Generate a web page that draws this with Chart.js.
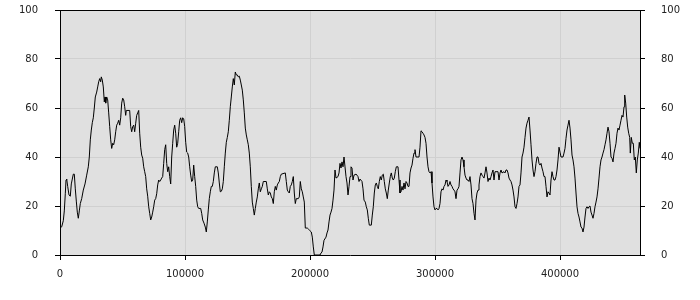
<!DOCTYPE html>
<html>
<head>
<meta charset="utf-8">
<script src="https://cdn.jsdelivr.net/npm/chart.js@4"></script>
<style>
  body { margin: 0; background: #fff; }
</style>
</head>
<body>
<canvas id="chart" width="700" height="300"></canvas>
<script>
// positions along the x axis
const xValues = [
  240, 1360, 2640, 3440, 4240, 4800, 5360, 6160, 7200, 8240, 9040, 9840, 10640, 11440, 12240, 13040, 13840, 14640, 15440, 16240,
  17360, 18640, 20000, 21360, 22640, 23440, 24240, 25040, 25840, 26640, 27440, 28240, 29360, 30160, 30960, 31760, 32560, 33040, 33840, 34640,
  35440, 36000, 36560, 37360, 38160, 38960, 39760, 40560, 41360, 42160, 42960, 43760, 44560, 45360, 46160, 46960, 47760, 48560, 49360, 50160,
  50960, 51760, 52560, 53040, 55760, 56560, 57360, 58160, 58960, 59760, 60560, 61360, 62160, 62960, 63760, 64560, 65360, 66160, 66960, 67760,
  68560, 69360, 70160, 70960, 71760, 72560, 73360, 74160, 74960, 75760, 76560, 77360, 78160, 78960, 79760, 80560, 81360, 82160, 82960, 83760,
  84560, 85360, 86160, 86960, 87760, 88560, 89360, 90160, 90960, 91760, 92560, 93360, 94160, 94960, 95760, 96560, 97360, 98160, 98960, 99760,
  100560, 101360, 102160, 102960, 103760, 104560, 105360, 106160, 106960, 107760, 108560, 109360, 110160, 110960, 112560, 113360, 114160, 115200, 116240, 117040,
  117840, 118640, 119440, 120240, 121040, 121840, 122640, 123440, 124240, 125840, 126640, 127440, 128240, 129040, 129840, 130640, 131440, 132240, 133040, 133840,
  134640, 135440, 136240, 137040, 137840, 138640, 139440, 140240, 141040, 141840, 142640, 143440, 144240, 145040, 145840, 146640, 147440, 148240, 149040, 149840,
  150640, 151440, 152240, 153040, 153840, 154640, 155440, 156240, 157040, 157840, 158640, 159440, 160240, 161040, 161840, 162640, 165040, 165840, 166640, 167440,
  168240, 169040, 169840, 170640, 171440, 172240, 173040, 173840, 174640, 175440, 176240, 177040, 180240, 181040, 181840, 182640, 183440, 184240, 185040, 185840,
  186640, 187440, 188240, 189040, 190640, 191440, 192240, 193040, 193840, 194640, 195440, 196240, 197840, 198640, 199440, 201040, 201840, 202640, 203440, 208000,
  208800, 209600, 210400, 211200, 212800, 213600, 214400, 215200, 216000, 216800, 217600, 218400, 219200, 220000, 220800, 222400, 223200, 224000, 224800, 225600,
  226400, 227200, 228000, 228800, 229600, 230400, 231200, 232000, 232800, 233600, 234400, 235200, 236800, 237600, 238400, 239200, 240000, 241600, 242400, 243200,
  244240, 245040, 245840, 246640, 247440, 249040, 249840, 250640, 251440, 252240, 253040, 253840, 254640, 255440, 256240, 257040, 257840, 258640, 259440, 260240,
  261040, 261840, 262640, 263440, 264240, 265040, 265840, 266640, 267440, 268240, 269040, 270400, 271200, 272000, 272800, 273600, 274400, 275200, 276000, 276800,
  277600, 278400, 279200, 280000, 280800, 281600, 282400, 283200, 284000, 284800, 287200, 288000, 288800, 289600, 290400, 291200, 292000, 292800, 293600, 294400,
  295200, 296000, 296800, 297600, 298400, 299200, 300000, 300800, 301600, 302400, 303200, 304000, 304800, 305600, 306400, 307200, 308000, 308800, 309600, 310400,
  311200, 312000, 312800, 313600, 314400, 315200, 316000, 316800, 317600, 318400, 319200, 320000, 320800, 321600, 322400, 323200, 324000, 324800, 325600, 326400,
  327200, 328000, 328800, 329600, 330400, 331200, 332000, 332800, 333600, 334400, 335200, 336000, 336800, 337600, 338400, 339200, 340000, 340800, 341600, 342400,
  343200, 344000, 344800, 345600, 346400, 347200, 348000, 350400, 351200, 352000, 352800, 353600, 355200, 356000, 356800, 357600, 358400, 359200, 360000, 360800,
  361600, 362400, 363200, 364000, 364800, 365600, 366400, 367200, 368000, 368800, 369600, 370400, 371200, 372000, 372800, 373600, 374400, 375200, 376000, 376800,
  377600, 378400, 379200, 380000, 380800, 381600, 382400, 383200, 384000, 384800, 385600, 386400, 387200, 388000, 388800, 389600, 390400, 391200, 392000, 392800,
  393600, 394400, 395200, 396000, 396800, 397600, 398400, 399200, 400000, 400800, 402400, 403200, 404000, 404800, 405600, 406400, 407200, 408000, 408800, 409600,
  410400, 411200, 412000, 412800, 413600, 414400, 415200, 416000, 416800, 417600, 418400, 419200, 420000, 420800, 421600, 422400, 423200, 424000, 424800, 425600,
  426400, 427200, 428000, 428800, 429600, 430400, 431200, 432000, 432800, 433600, 434400, 435200, 436000, 436800, 437600, 438400, 439200, 440000, 440800, 441600,
  442400, 443200, 444000, 444800, 445600, 446400, 447200, 448000, 448800, 449600, 450400, 451200, 451760, 452560, 453360, 454160, 454960, 455760, 456240, 457040,
  457840, 458640, 459440, 460240, 461040, 461840, 462640, 463440, 464000
];

// series values
const yValues = [
  11, 11.5, 14, 18, 25, 30.6, 31, 28, 24.5, 24, 29, 31, 33, 33, 27, 22, 17.5, 15, 18, 21,
  23, 26.5, 29, 32.6, 36, 40, 47, 51, 54, 56, 60, 64.5, 66.5, 68.6, 70.7, 72, 70.7, 72.7, 71.4, 68.6,
  62.5, 64.5, 62, 64.5, 63.3, 58, 52.4, 47, 43.5, 45.6, 45, 47, 50.3, 53, 53.8, 55, 53, 56, 62, 64,
  63.3, 60.5, 57, 59, 59, 52.4, 50.3, 52.4, 53, 50.3, 53.8, 57, 58, 59, 49.7, 44, 40.8, 39.5, 36, 34,
  32, 27, 24, 19.7, 17, 14.3, 15.5, 17.5, 19.7, 22.4, 23, 25, 28.6, 30.6, 30, 30.6, 31.4, 32, 37.4, 43,
  45, 37.4, 34, 36, 32, 29, 40, 45.6, 51, 53, 49.7, 44, 45.6, 50.3, 55, 56, 54, 56, 55.6, 52.4,
  46, 42, 41.6, 40, 36, 32.6, 30, 30.6, 36.7, 32, 28, 22.4, 19.7, 19, 19, 17, 14.3, 13, 11.4, 9.4,
  13.5, 18.4, 23, 25.8, 28, 28, 30, 33.5, 36, 36, 33.5, 29.4, 25.8, 26, 27, 30, 36, 41.6, 46, 48,
  50.3, 55, 60.5, 64.5, 68.6, 72, 69.4, 74.7, 73.5, 73.5, 72.7, 73, 71.4, 69.4, 67.3, 63.3, 58, 51.8, 49, 47,
  45, 41.6, 36, 28, 21.6, 19, 16.3, 19, 21.6, 23.7, 27, 29.4, 25.8, 27, 28, 30, 30, 27, 24.5, 25.8,
  25.3, 23.7, 23, 21, 25.8, 28, 26.5, 28.6, 29.4, 30, 32, 33, 33.5, 30, 26.5, 25.8, 25.3, 28, 28.6, 30,
  32, 25.3, 21, 23, 23, 23.7, 30, 27, 25.8, 23.7, 21.6, 11, 11, 10.6, 10.2, 9.4, 7.3, 3.3, 0, 0,
  0.8, 1.2, 3.3, 6, 7.3, 9, 10.2, 13.5, 16.3, 17.5, 19, 22.4, 26.5, 34.7, 31.4, 32, 33.5, 37.4, 35.5, 38,
  36, 40, 36, 32, 29.4, 24.5, 28, 32, 36, 35.5, 30.6, 32.6, 33, 32.6, 32, 30, 31, 30, 27, 22.4,
  21.6, 19.7, 18.4, 15, 12.2, 12.2, 16.3, 19.7, 25.3, 28.6, 29.4, 28, 27, 30, 32, 30.6, 32.6, 33, 30, 27,
  25.3, 23, 26.5, 29.4, 32, 33.5, 31.4, 30.6, 31.4, 34, 36, 36, 30.6, 25.3, 25.8, 28, 26.5, 29.4, 27, 30,
  29.4, 28, 28, 33.5, 35.5, 36.7, 39.5, 41.6, 43, 40, 40, 44, 50.7, 50.3, 49.7, 49, 48, 45.6, 40, 36,
  34, 33.5, 34, 29.4, 23.7, 19.7, 18.4, 19, 19, 18.4, 19, 21, 25.8, 27, 26.5, 28, 28.6, 30.6, 30, 28,
  28.6, 30, 28.6, 28, 27, 26.5, 25.8, 23, 26.5, 27, 28, 33.5, 38.8, 40, 38.8, 36, 32.6, 31.4, 30.6, 30.6,
  30, 32, 28.6, 23, 21, 17, 14.3, 22.4, 25.3, 26.5, 28.6, 32, 33.5, 32.6, 32, 31.4, 33.5, 36, 33.5, 30,
  31.4, 30.6, 32, 33.5, 34.7, 30.6, 34, 34, 30.6, 33.5, 34.7, 33.5, 34, 33.5, 34.7, 34.7, 33.5, 31.4, 30.6, 30,
  28.6, 26.5, 23.7, 19.7, 19, 21, 23.7, 28, 28.6, 33.5, 40, 41.6, 44, 48, 51.8, 53.8, 55, 56.3, 51, 45,
  38.8, 34.7, 32, 34, 37.4, 40, 40, 37.4, 36.7, 37.4, 35.5, 34, 32, 32, 28, 23.7, 25.8, 25.3, 24.5, 30.6,
  34, 32, 30.6, 30.6, 32, 34.7, 38.8, 44, 42, 40, 40, 41.6, 43.5, 47.6, 51, 53, 55, 51.8, 47, 40.8,
  38.8, 36, 31.4, 25.3, 19.7, 17, 15.5, 13.5, 11.4, 11, 9.4, 11.4, 15.5, 19, 19.7, 19, 19.7, 20, 17.5, 16.3,
  15, 17, 19.7, 21.6, 23.7, 27, 31.4, 36, 38.8, 40, 41.6, 43, 45, 47, 49.7, 52.2, 50.3, 45.6, 40, 39.5,
  38, 41.6, 43.5, 45.6, 49.7, 51.8, 51, 53, 55, 57, 56.3, 60.5, 65.3, 62, 56.3, 52.2, 49.7, 48, 41.6, 48,
  45.6, 45.6, 38.8, 40, 33.5, 38.8, 41.6, 46, 43.5
];

const xTicks = [0, 100000, 200000, 300000, 400000];
const yTicks = [0, 20, 40, 60, 80, 100];

const labelFont = { family: 'DejaVu Sans', size: 10 };

const plotBackground = {
  id: 'plotBackground',
  beforeDraw(chart) {
    const { ctx, chartArea: a } = chart;
    ctx.save();
    ctx.fillStyle = '#e0e0e0';
    ctx.fillRect(a.left, a.top, a.right - a.left, a.bottom - a.top);
    ctx.restore();
  },
  afterDraw(chart) {
    // top edge of the frame; the other three come from the axes
    const { ctx, chartArea: a } = chart;
    ctx.save();
    ctx.strokeStyle = '#000';
    ctx.lineWidth = 1;
    ctx.beginPath();
    ctx.moveTo(a.left, Math.round(a.top) + 0.5);
    ctx.lineTo(a.right, Math.round(a.top) + 0.5);
    ctx.stroke();
    ctx.restore();
  }
};

function fitSide(s) {
  s.width = 60;
  s.paddingTop = 0;
  s.paddingBottom = 0;
}

new Chart(document.getElementById('chart'), {
  type: 'line',
  data: {
    datasets: [{
      data: xValues.map((x, i) => ({ x: x, y: yValues[i] })),
      borderColor: '#000',
      borderWidth: 1,
      pointRadius: 0,
      tension: 0,
      fill: false
    }]
  },
  options: {
    responsive: false,
    animation: false,
    devicePixelRatio: 1,
    layout: { padding: { top: 10, left: 0, right: 0, bottom: 0 } },
    plugins: { legend: { display: false }, tooltip: { enabled: false } },
    scales: {
      x: {
        type: 'linear',
        min: 0,
        max: 464000,
        afterFit: s => { s.height = 45; },
        afterBuildTicks: s => { s.ticks = xTicks.map(v => ({ value: v })); },
        ticks: {
          autoSkip: false, maxRotation: 0, includeBounds: false, padding: 8,
          color: '#222', font: labelFont,
          callback: v => String(v)
        },
        grid: { color: '#d0d0d0', tickColor: '#000', tickLength: 5 },
        border: { color: '#000' }
      },
      y: {
        position: 'left',
        min: 0,
        max: 100,
        afterFit: fitSide,
        afterBuildTicks: s => { s.ticks = yTicks.map(v => ({ value: v })); },
        ticks: { padding: 17, color: '#222', font: labelFont },
        grid: { color: '#d0d0d0', tickColor: '#000', tickLength: 5 },
        border: { color: '#000' }
      },
      y2: {
        position: 'right',
        min: 0,
        max: 100,
        afterFit: fitSide,
        afterBuildTicks: s => { s.ticks = yTicks.map(v => ({ value: v })); },
        ticks: { padding: 16, color: '#222', font: labelFont },
        grid: { drawOnChartArea: false, tickColor: '#000', tickLength: 5 },
        border: { color: '#000' }
      }
    }
  },
  plugins: [plotBackground]
});
</script>
</body>
</html>
